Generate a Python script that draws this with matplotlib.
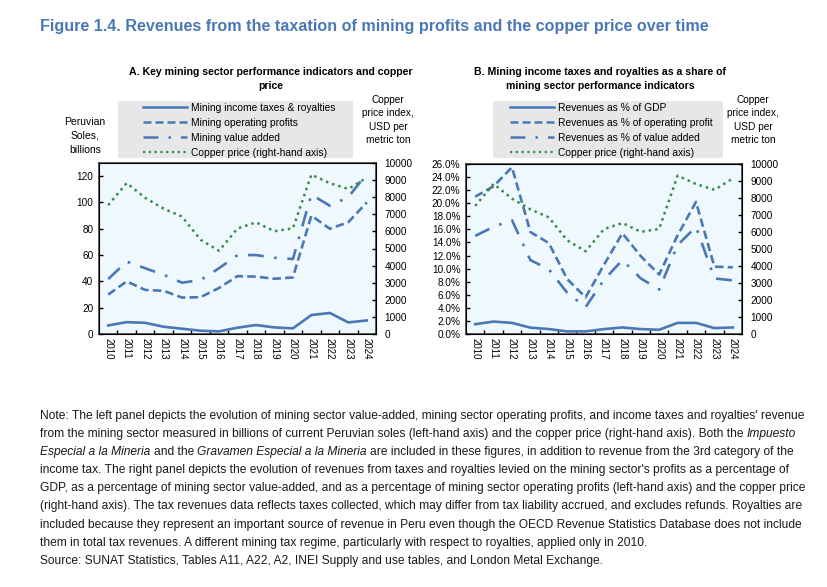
import numpy as np
import matplotlib
matplotlib.use('Agg')
import matplotlib.pyplot as plt
from matplotlib.lines import Line2D
from matplotlib.patches import Rectangle

years = ['2010', '2011', '2012', '2013', '2014', '2015', '2016', '2017',
         '2018', '2019', '2020', '2021', '2022', '2023', '2024']

# panel A, billions of soles
income_taxes = [6.5, 9.0, 8.5, 5.5, 4.0, 2.5, 2.0, 4.8, 6.8, 5.0, 4.3, 14.4, 16.0, 8.8, 10.3]
operating_profits = [30, 40, 33.5, 32.8, 27.7, 28, 35, 44, 43.6, 42, 43, 90, 80, 85, 100]
value_added = [41.8, 55, 50, 45, 39, 41, 50, 60, 60, 58, 57, 106, 97.5, 104, 122]

# copper price, USD per metric ton
copper = [7535, 8828, 7962, 7332, 6863, 5510, 4868, 6170, 6530, 6010, 6181, 9317, 8822, 8478, 9147]

# panel B, percent
rev_gdp = [1.5, 1.9, 1.7, 0.97, 0.76, 0.4, 0.4, 0.75, 1.0, 0.75, 0.65, 1.7, 1.7, 0.9, 1.0]
rev_profit = [21.0, 22.6, 25.5, 15.6, 13.9, 8.4, 5.6, 10.6, 15.4, 11.9, 9.1, 15.1, 20.2, 10.3, 10.2]
rev_va = [15.0, 16.4, 17.4, 11.3, 9.9, 6.3, 4.1, 8.3, 11.3, 8.5, 6.8, 13.6, 16.4, 8.5, 8.2]

labels_a = ['Mining income taxes & royalties', 'Mining operating profits',
            'Mining value added', 'Copper price (right-hand axis)']
labels_b = ['Revenues as % of GDP', 'Revenues as % of operating profit',
            'Revenues as % of value added', 'Copper price (right-hand axis)']

plt.rcParams['font.family'] = 'Liberation Sans'

BLUE = '#4a78b5'
GREEN = '#3a8a48'
styles = ['-', (0, (3.2, 1.6)), (0, (6, 4, 1, 4)), (0, (1, 1.6))]
TICK = 7.2

W, H = 828, 587
fig = plt.figure(figsize=(W / 100, H / 100), dpi=100)


def fx(px):
    return px / W


def fy(py):
    return 1 - py / H


def setup(ax):
    x = np.arange(len(years))
    ax.set_facecolor('#eff9fd')
    ax.set_xlim(-0.5, len(years) - 0.5)
    ax.set_xticks(x)
    ax.set_xticklabels(years, rotation=270, fontsize=7)
    ax.set_xticks(np.arange(0.5, len(years) - 1, 1), minor=True)
    ax.tick_params(axis='x', which='major', length=0, pad=3)
    ax.tick_params(axis='x', which='minor', direction='in', length=3, width=1)
    ax.tick_params(axis='y', direction='in', length=3, width=1, labelsize=TICK, pad=4)
    for s in ax.spines.values():
        s.set_linewidth(1.1)
        s.set_color('#333333')
    return x


def copper_axis(ax, x):
    ax2 = ax.twinx()
    ax2.plot(x, copper, color=GREEN, lw=1.8, linestyle=styles[3])
    ax2.set_ylim(0, 10000)
    ax2.set_yticks(np.arange(0, 10001, 1000))
    ax2.tick_params(axis='y', direction='in', length=3, width=1, labelsize=TICK, pad=6)
    return ax2


def legend_box(left, right, hx, labels):
    fig.patches.append(Rectangle((fx(left), fy(158)), fx(right - left), 57 / H,
                                 transform=fig.transFigure, facecolor='#e7e7e7',
                                 edgecolor='none', zorder=0))
    handles = [Line2D([], [], color=BLUE, lw=1.8, linestyle=styles[i]) for i in range(3)]
    handles.append(Line2D([], [], color=GREEN, lw=1.6, linestyle=styles[3]))
    fig.legend(handles, labels, loc='upper left', bbox_to_anchor=(fx(hx - 6), fy(101)),
               frameon=False, fontsize=7.4, handlelength=4.3, handletextpad=0.35,
               labelspacing=0.48, borderaxespad=0, borderpad=0.2)


# ---- panel A
axA = fig.add_axes([fx(99), fy(334), fx(277), 171 / H])
x = setup(axA)
axA.plot(x, income_taxes, color=BLUE, lw=1.9, linestyle=styles[0])
axA.plot(x, operating_profits, color=BLUE, lw=1.9, linestyle=styles[1])
axA.plot(x, value_added, color=BLUE, lw=1.9, linestyle=styles[2])
axA.set_ylim(0, 130)
axA.set_yticks(np.arange(0, 121, 20))
copper_axis(axA, x)

# ---- panel B
axB = fig.add_axes([fx(466), fy(334), fx(276), 170 / H])
x = setup(axB)
axB.plot(x, rev_gdp, color=BLUE, lw=1.9, linestyle=styles[0])
axB.plot(x, rev_profit, color=BLUE, lw=1.9, linestyle=styles[1])
axB.plot(x, rev_va, color=BLUE, lw=1.9, linestyle=styles[2])
axB.set_ylim(0, 26)
axB.set_yticks(np.arange(0, 26.1, 2))
axB.set_yticklabels(['%.1f%%' % v for v in np.arange(0, 26.1, 2)])
copper_axis(axB, x)

legend_box(118, 353, 147, labels_a)
legend_box(493, 723, 514, labels_b)

# titles and axis captions
fig.text(fx(40), fy(27), 'Figure 1.4. Revenues from the taxation of mining profits and the copper price over time',
         color='#4a78b5', fontsize=11.6, fontweight='bold', va='center')
fig.text(fx(271), fy(79), 'A. Key mining sector performance indicators and copper\nprice',
         ha='center', va='center', fontsize=7.6, fontweight='bold', linespacing=1.45)
fig.text(fx(600), fy(79), 'B. Mining income taxes and royalties as a share of\nmining sector performance indicators',
         ha='center', va='center', fontsize=7.6, fontweight='bold', linespacing=1.45)
fig.text(fx(85), fy(136), 'Peruvian\nSoles,\nbillions', ha='center', va='center',
         fontsize=7.5, linespacing=1.45)
for cx in (388, 753):
    fig.text(fx(cx), fy(120), 'Copper\nprice index,\nUSD per\nmetric ton', ha='center', va='center',
             fontsize=7.3, linespacing=1.4)

# note, with the italic names drawn as separate pieces
note = [
    [("Note: The left panel depicts the evolution of mining sector value-added, mining sector operating profits, and income taxes and royalties' revenue", 'normal')],
    [("from the mining sector measured in billions of current Peruvian soles (left-hand axis) and the copper price (right-hand axis). Both the", 'normal'),
     ("Impuesto", 'italic')],
    [("Especial a la Mineria", 'italic'), ("and the", 'normal'), ("Gravamen Especial a la Mineria", 'italic'),
     ("are included in these figures, in addition to revenue from the 3rd category of the", 'normal')],
    [("income tax. The right panel depicts the evolution of revenues from taxes and royalties levied on the mining sector's profits as a percentage of", 'normal')],
    [("GDP, as a percentage of mining sector value-added, and as a percentage of mining sector operating profits (left-hand axis) and the copper price", 'normal')],
    [("(right-hand axis). The tax revenues data reflects taxes collected, which may differ from tax liability accrued, and excludes refunds. Royalties are", 'normal')],
    [("included because they represent an important source of revenue in Peru even though the OECD Revenue Statistics Database does not include", 'normal')],
    [("them in total tax revenues. A different mining tax regime, particularly with respect to royalties, applied only in 2010.", 'normal')],
    [("Source: SUNAT Statistics, Tables A11, A22, A2, INEI Supply and use tables, and London Metal Exchange.", 'normal')],
]
renderer = fig.canvas.get_renderer()


def width(txt, size, st='normal'):
    t = fig.text(0, 0, txt, fontsize=size, style=st)
    w = t.get_window_extent(renderer).width
    t.remove()
    return w


LEFT, RIGHT = 40, 805
size = 9.2
sp = width('x x', size) - width('xx', size)
widest = max(sum(width(t, size, st) for t, st in parts) + sp * (len(parts) - 1) for parts in note)
size = size * (RIGHT - LEFT - 2) / widest

sp = width('x x', size) - width('xx', size)
for i, parts in enumerate(note):
    xp = LEFT
    yp = 419 + i * 18.1
    for txt, st in parts:
        fig.text(fx(xp), fy(yp), txt, fontsize=size, style=st, va='baseline', color='#1a1a1a')
        xp += width(txt, size, st) + sp

fig.savefig('out.png', dpi=100)
